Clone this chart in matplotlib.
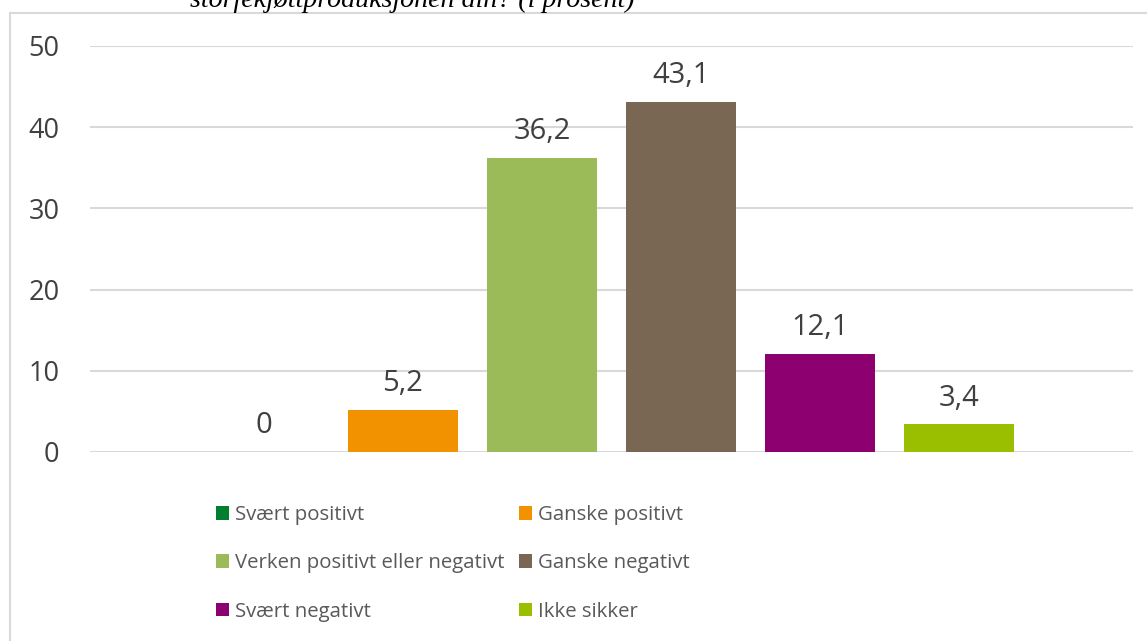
import matplotlib.pyplot as plt
from matplotlib.patches import Rectangle

# Data
categories = ['Svært positivt', 'Ganske positivt', 'Verken positivt eller negativt',
              'Ganske negativt', 'Svært negativt', 'Ikke sikker']
values = [0, 5.2, 36.2, 43.1, 12.1, 3.4]
labels = ['0', '5,2', '36,2', '43,1', '12,1', '3,4']
colors = ['#00802F', '#F39200', '#9BBB59', '#796754', '#8C0070', '#99BF00']
yticks = [0, 10, 20, 30, 40, 50]

plt.rcParams['font.family'] = ['Open Sans', 'DejaVu Sans']
text_color = '#404040'
grid_color = '#D9D9D9'

W, H = 1147, 641
fig = plt.figure(figsize=(W / 100, H / 100), dpi=100)

# rammen rundt diagrammet
fig.patches.append(Rectangle((10 / W, -0.1), 1.2, 1 - 13 / H + 0.1, transform=fig.transFigure,
                             fill=False, edgecolor=grid_color, linewidth=1.5))

# avkuttet tittel øverst
fig.text(190 / W, 1 - 7 / H, 'storfekjøttproduksjonen din? (i prosent)',
         family='Liberation Serif', style='italic', fontsize=20.2, color='black',
         ha='left', va='baseline')

ax = fig.add_axes([90 / W, 1 - 452 / H, (1133 - 90) / W, (452 - 46) / H])
ax.set_facecolor('none')

for i, (cat, v, c) in enumerate(zip(categories, values, colors)):
    ax.bar(i, v, width=0.79, color=c, label=cat, zorder=3)
    ax.annotate(labels[i], (i, v), xytext=(0, 13.5), textcoords='offset points',
                ha='center', va='baseline', fontsize=21, color=text_color)

ax.set_xlim(-1.25, 6.25)
ax.set_ylim(0, 50)
ax.set_yticks(yticks)
ax.set_xticks([])
ax.tick_params(axis='y', length=0, pad=22, labelsize=19.5, labelcolor=text_color)
ax.grid(axis='y', color=grid_color, linewidth=1.5, zorder=0)
for s in ax.spines.values():
    s.set_visible(False)

# legenden fylles kolonnevis, så rekkefølgen byttes om
handles, names = ax.get_legend_handles_labels()
order = [0, 2, 4, 1, 3, 5]
fig.legend([handles[k] for k in order], [names[k] for k in order],
           ncol=2, loc='upper left', bbox_to_anchor=(206 / W, 1 - 495 / H),
           frameon=False, fontsize=14.7, labelcolor='#595959',
           handlelength=0.64, handleheight=0.64, handletextpad=0.3,
           columnspacing=0.7, labelspacing=1.38, borderpad=0)

fig.savefig('out.png', dpi=100)
